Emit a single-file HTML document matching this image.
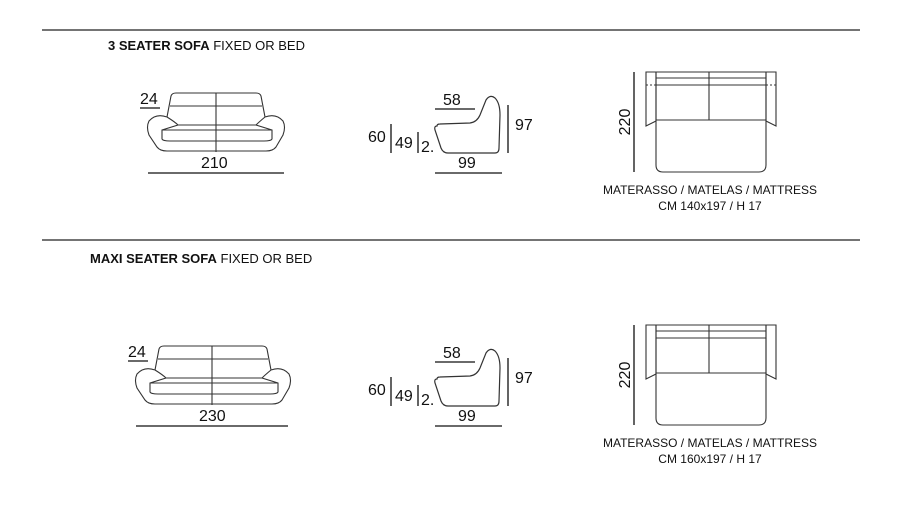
<!DOCTYPE html>
<html><head><meta charset="utf-8"><style>
html,body{margin:0;padding:0;background:#fff;}
svg{display:block;font-family:"Liberation Sans",sans-serif;}
</style></head><body>
<svg width="905" height="511" viewBox="0 0 905 511" xmlns="http://www.w3.org/2000/svg">
<g stroke="#222" fill="none" stroke-width="1.2">
<line x1="42" y1="30" x2="860" y2="30"/>
<line x1="42" y1="240" x2="860" y2="240"/>
</g>
<text x="108" y="50" font-size="13" fill="#111"><tspan font-weight="bold">3 SEATER SOFA</tspan> FIXED OR BED</text>
<text x="90" y="263" font-size="13" fill="#111"><tspan font-weight="bold">MAXI SEATER SOFA</tspan> FIXED OR BED</text>

<defs>
<g id="side">
<path d="M437,126 Q434,126 435,130 L441,148 Q443,153 448,153 L495,153 Q499,153 499,148 L500,115 Q500,103 495,98 Q490,94 486,100 L480,115 Q477,122 470,123 L440,124 Q437,124 437,126 Z" stroke="#333" fill="none" stroke-width="1.2"/>
<g stroke="#111" stroke-width="1.3">
<line x1="435" y1="109" x2="475" y2="109"/>
<line x1="435" y1="173" x2="502" y2="173"/>
<line x1="391" y1="124" x2="391" y2="153"/>
<line x1="418" y1="132" x2="418" y2="153"/>
<line x1="508" y1="105" x2="508" y2="153"/>
</g>
<g font-size="16" fill="#111">
<text x="443" y="105">58</text>
<text x="368" y="142">60</text>
<text x="395" y="148">49</text>
<text x="421" y="152">2.</text>
<text x="515" y="130">97</text>
<text x="458" y="168">99</text>
</g>
</g>
</defs>

<!-- sofa 1 -->
<g stroke="#333" stroke-width="1.1" fill="none">
<path d="M167,117 L171,96 Q172,93 176,93 L256,93 Q260,93 261,96 L265,117"/>
<path d="M167,117 Q156,113 149,121 Q146,127 149,135 L157,147 Q160,151 167,151 L266,151 Q273,151 276,147 L283,135 Q286,127 283,121 Q276,113 265,117"/>
<path d="M170,106 L262,106"/>
<path d="M167,117 Q175,122 178,125 L162,130 L162,139 Q163,141 170,141 L264,141 Q271,141 272,139 L272,130 L256,125 Q259,122 265,117"/>
<path d="M178,125 L256,125 M162,130 L272,130"/>
<line x1="216" y1="93" x2="216" y2="152"/>
</g>
<line x1="140" y1="108" x2="160" y2="108" stroke="#111" stroke-width="1.2"/>
<line x1="148" y1="173" x2="284" y2="173" stroke="#111" stroke-width="1.3"/>
<text x="140" y="104" font-size="16" fill="#111">24</text>
<text x="201" y="168" font-size="16" fill="#111">210</text>

<!-- sofa 2 -->
<g transform="translate(0,253)">
<g stroke="#333" stroke-width="1.1" fill="none">
<path d="M155,117 L159,96 Q160,93 164,93 L262,93 Q266,93 267,96 L271,117"/>
<path d="M155,117 Q144,113 137,121 Q134,127 137,135 L145,147 Q148,151 155,151 L272,151 Q279,151 282,147 L289,135 Q292,127 289,121 Q282,113 271,117"/>
<path d="M158,106 L268,106"/>
<path d="M155,117 Q163,122 166,125 L150,130 L150,139 Q151,141 158,141 L270,141 Q277,141 278,139 L278,130 L262,125 Q265,122 271,117"/>
<path d="M166,125 L262,125 M150,130 L278,130"/>
<line x1="212" y1="93" x2="212" y2="152"/>
</g>
<line x1="128" y1="108" x2="148" y2="108" stroke="#111" stroke-width="1.2"/>
<line x1="136" y1="173" x2="288" y2="173" stroke="#111" stroke-width="1.3"/>
<text x="128" y="104" font-size="16" fill="#111">24</text>
<text x="199" y="168" font-size="16" fill="#111">230</text>
</g>

<use href="#side"/>
<use href="#side" transform="translate(0,253)"/>

<g>
<line x1="634" y1="72" x2="634" y2="172" stroke="#111" stroke-width="1.3"/>
<g stroke="#333" stroke-width="1.1" fill="none">
<path d="M646,72 L656,72 L656,121 L646,126 Z"/>
<path d="M776,72 L766,72 L766,121 L776,126 Z"/>
<path d="M656,72 L766,72 L766,85 L656,85 Z"/>
<path d="M656,78 L766,78"/>
<path d="M656,85 L656,165 Q656,172 663,172 L759,172 Q766,172 766,165 L766,85"/>
<line x1="656" y1="120" x2="766" y2="120"/>
<line x1="709" y1="72" x2="709" y2="120"/>
<line x1="646" y1="85" x2="656" y2="85" stroke-dasharray="2,2"/>
<line x1="766" y1="85" x2="776" y2="85" stroke-dasharray="2,2"/>
</g>
<text transform="translate(630,122) rotate(-90)" text-anchor="middle" font-size="16" fill="#111">220</text>
<text x="710" y="194" text-anchor="middle" font-size="12" fill="#111">MATERASSO / MATELAS / MATTRESS</text>
<text x="710" y="210" text-anchor="middle" font-size="12" fill="#111">CM 140x197 / H 17</text>
</g>
<g transform="translate(0,253)">
<line x1="634" y1="72" x2="634" y2="172" stroke="#111" stroke-width="1.3"/>
<g stroke="#333" stroke-width="1.1" fill="none">
<path d="M646,72 L656,72 L656,121 L646,126 Z"/>
<path d="M776,72 L766,72 L766,121 L776,126 Z"/>
<path d="M656,72 L766,72 L766,85 L656,85 Z"/>
<path d="M656,78 L766,78"/>
<path d="M656,85 L656,165 Q656,172 663,172 L759,172 Q766,172 766,165 L766,85"/>
<line x1="656" y1="120" x2="766" y2="120"/>
<line x1="709" y1="72" x2="709" y2="120"/>
</g>
<text transform="translate(630,122) rotate(-90)" text-anchor="middle" font-size="16" fill="#111">220</text>
<text x="710" y="194" text-anchor="middle" font-size="12" fill="#111">MATERASSO / MATELAS / MATTRESS</text>
<text x="710" y="210" text-anchor="middle" font-size="12" fill="#111">CM 160x197 / H 17</text>
</g>
</svg>
</body></html>
